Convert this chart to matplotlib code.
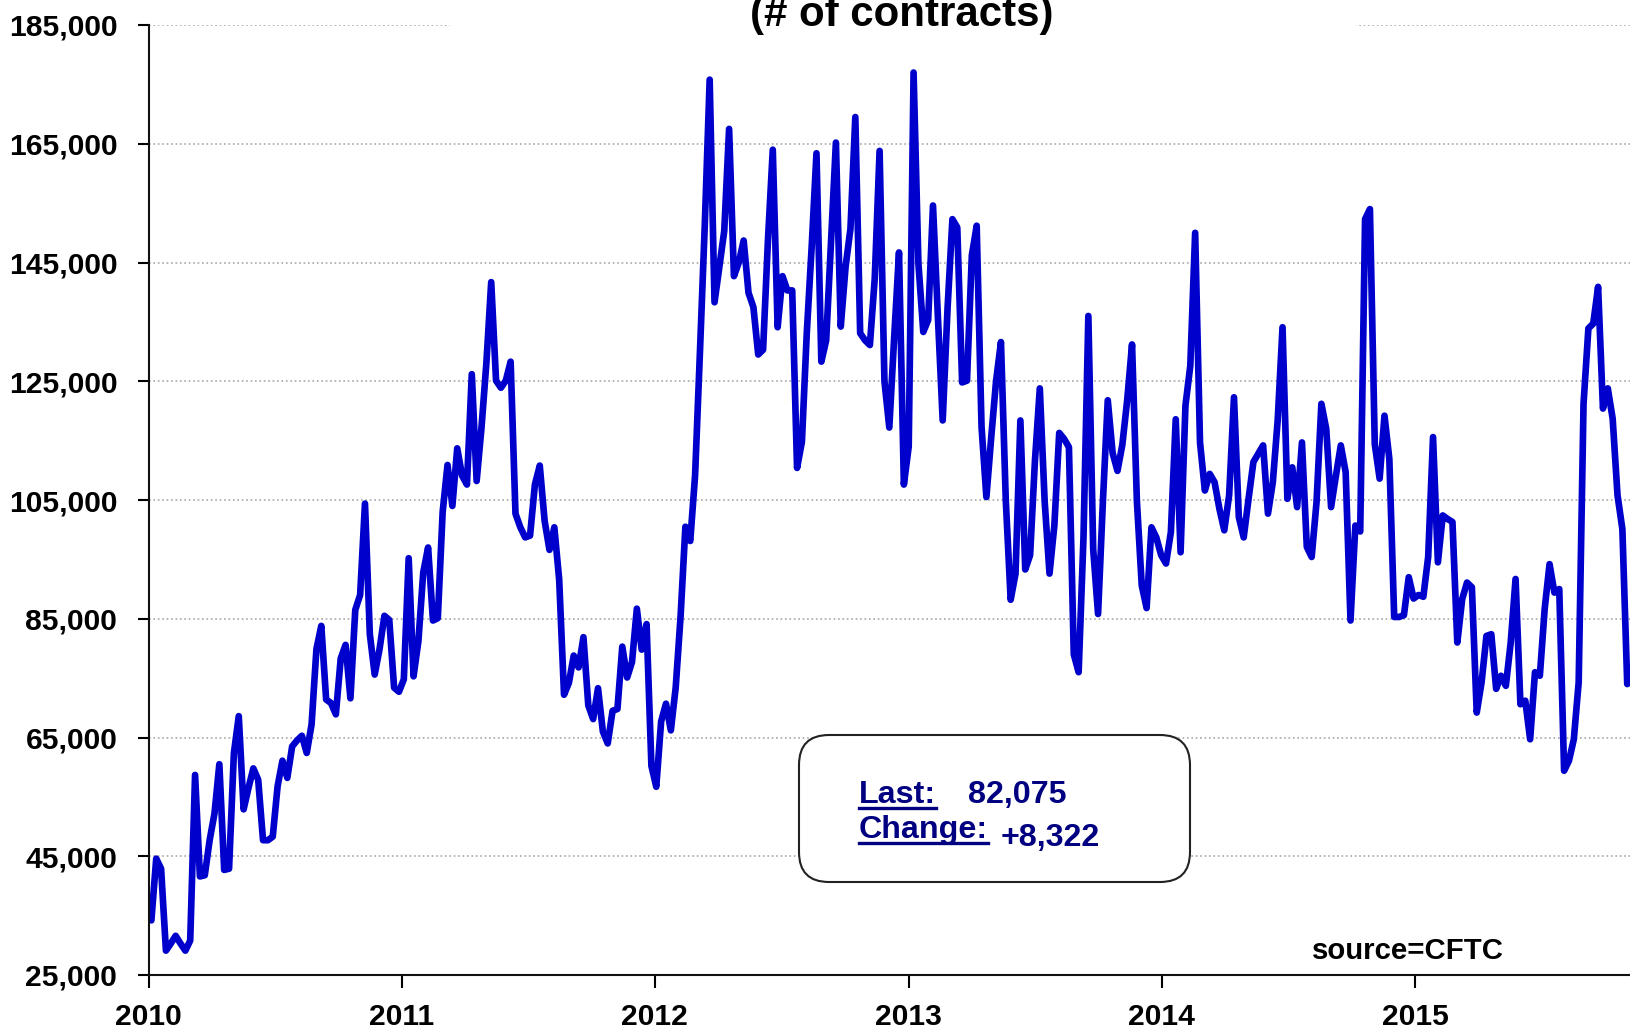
import matplotlib
matplotlib.use("Agg")
import matplotlib.pyplot as plt
import matplotlib.dates as mdates
from matplotlib import font_manager as fm
from matplotlib.patches import FancyBboxPatch, Rectangle
from matplotlib.lines import Line2D
from matplotlib.ticker import FuncFormatter
import pandas as pd

# weekly open interest (# of contracts), first report 2010-01-05
START = "2010-01-05"
oi_2010 = [34200, 44600, 42900, 29100, 30300, 31600, 30300, 29100, 30800, 58700,
           41600, 41800, 47700, 52200, 60500, 42700, 42900, 62400, 68600, 52900,
           56500, 59800, 57900, 47700, 47700, 48300, 56800, 61100, 58200, 63500,
           64500, 65300, 62400, 67200, 79900, 83800, 71400, 70800, 68900, 78300,
           80600, 71600, 86500, 89000, 104400, 82400, 75600, 79900, 85500, 84800,
           73400, 72700, 74800, 95200]
oi_2011 = [75300, 81200, 92800, 97000, 84700, 85100, 103000, 110900, 104000, 113700,
           109100, 107600, 126200, 108200, 117200, 128000, 141700, 125100, 123900, 125100,
           128300, 102700, 100400, 98700, 99000, 107600, 110800, 101500, 96600, 100400,
           91600, 72200, 74200, 78800, 76800, 81900, 70400, 68100, 73300, 66000,
           64000, 69500, 69800, 80300, 75100, 77700, 86700, 79800, 84100, 60200,
           56700, 67700, 70700]
oi_2012 = [66200, 73400, 85300, 100500, 98100, 109200, 130000, 151500, 175800, 138300,
           144300, 150300, 167500, 142700, 145000, 148700, 139900, 137500, 129500, 130300,
           148700, 164000, 134100, 142700, 140300, 140300, 110400, 114800, 133100, 147500,
           163400, 128300, 131900, 148700, 165200, 134200, 144300, 150700, 169500, 133100,
           131900, 131100, 142300, 163800, 125000, 117200, 132300, 146700, 107600, 114000,
           177000]
oi_2013 = [144800, 133300, 135300, 154600, 136000, 118400, 137300, 152300, 150900, 124800,
           125100, 146200, 151200, 117300, 105500, 115600, 125100, 131600, 104800, 88200,
           92600, 118400, 93300, 95700, 111600, 123800, 104800, 92600, 100700, 116300,
           115300, 113900, 79000, 76000, 98700, 136000, 96700, 85800, 104800, 121800,
           112900, 109900, 114300, 121800, 131200, 104800, 90600, 86800, 100400, 98700,
           95700, 94300]
oi_2014 = [99600, 118600, 96200, 120900, 127600, 150000, 114700, 106600, 109400, 108000,
           103500, 99900, 105800, 122300, 102100, 98700, 105200, 111400, 112800, 114200,
           102700, 108000, 118400, 134100, 105200, 110500, 103800, 114700, 97100, 95400,
           104600, 121200, 117000, 103800, 109100, 114200, 109700, 84700, 100700, 99700,
           152300, 154000, 114400, 108600, 119200, 111900, 85300, 85300, 85600, 92000,
           88400, 89000, 88700]
oi_2015 = [95400, 115600, 94500, 102400, 101800, 101300, 81000, 88300, 91100, 90300,
           69200, 74300, 82100, 82400, 73200, 75400, 73700, 81000, 91700, 70600,
           71200, 64700, 76000, 75400, 86700, 94200, 89400, 90000, 59400, 61100,
           64700, 74300, 121200, 133900, 134700, 140900, 120400, 123800, 118700, 105800,
           100100, 74000, 74700]

values = oi_2010 + oi_2011 + oi_2012 + oi_2013 + oi_2014 + oi_2015
dates = pd.date_range(START, periods=len(values), freq="7D")

Y_TICKS = list(range(25000, 185001, 20000))
X_START, X_END = "2010-01-01", "2015-11-07"
TITLE = "(# of contracts)"
LAST_LABEL, LAST_VALUE = "Last:", "82,075"
CHANGE_LABEL, CHANGE_VALUE = "Change:", "+8,322"
SOURCE = "source=CFTC"

C_LINE = "#0000cc"
C_BOX_TEXT = "#000080"

# narrow face if the system has it, else regular Arial-metric face at a smaller size
installed = {f.name for f in fm.fontManager.ttflist}
if "Liberation Sans Narrow" in installed:
    FONT, FS = "Liberation Sans Narrow", 1.0
else:
    FONT, FS = "Liberation Sans", 0.83

plt.rcParams["font.family"] = [FONT, "DejaVu Sans"]
plt.rcParams["font.weight"] = "bold"

W, H = 1630, 1032
fig = plt.figure(figsize=(W / 100, H / 100), dpi=100)
ax = fig.add_axes([148.6 / W, 1 - 975 / H, 1 - 148.6 / W, (975 - 25) / H])

ax.plot(dates, values, color=C_LINE, lw=4.8, solid_joinstyle="round",
        solid_capstyle="round", zorder=3)

ax.set_ylim(Y_TICKS[0], Y_TICKS[-1])
ax.set_yticks(Y_TICKS)
ax.yaxis.set_major_formatter(FuncFormatter(lambda v, _: f"{v:,.0f}"))
ax.set_xlim(pd.Timestamp(X_START), pd.Timestamp(X_END))
ax.xaxis.set_major_locator(mdates.YearLocator())
ax.xaxis.set_major_formatter(mdates.DateFormatter("%Y"))

ax.grid(axis="y", ls=":", color="#a8a8a8", lw=1.2, zorder=1)
for side in ("top", "right"):
    ax.spines[side].set_visible(False)
for side in ("left", "bottom"):
    ax.spines[side].set_linewidth(1.5)
    ax.spines[side].set_color("#111111")
    ax.spines[side].set_zorder(4)

ax.tick_params(axis="y", length=8, width=1.5, pad=14.5, labelsize=26 * FS)
ax.tick_params(axis="x", length=9, width=1.5, pad=11, labelsize=26 * FS)

# white title area breaks the top gridline
fig.add_artist(Rectangle((450 / W, 1 - 42 / H), (1355 - 450) / W, 42 / H,
                         transform=fig.transFigure, color="white", zorder=5))
fig.text(902 / W, 1 - 26 / H, TITLE, ha="center", va="baseline",
         fontsize=36.5 * FS, fontweight="bold", zorder=6)

# summary box
fig.add_artist(FancyBboxPatch((7.99, (H - 882) / 100), 3.91, 1.47,
                              boxstyle="round,pad=0,rounding_size=0.3",
                              transform=fig.dpi_scale_trans, facecolor="white",
                              edgecolor="#222222", lw=1.5, zorder=5))
box_fs = 28 * FS
t_last = fig.text(859 / W, 1 - 803 / H, LAST_LABEL, ha="left", va="baseline",
                  fontsize=box_fs, color=C_BOX_TEXT, zorder=6)
fig.text(968 / W, 1 - 803 / H, LAST_VALUE, ha="left", va="baseline",
         fontsize=box_fs, color=C_BOX_TEXT, zorder=6)
t_chg = fig.text(859 / W, 1 - 838 / H, CHANGE_LABEL, ha="left", va="baseline",
                 fontsize=box_fs, color=C_BOX_TEXT, zorder=6)
fig.text(1001 / W, 1 - 846 / H, CHANGE_VALUE, ha="left", va="baseline",
         fontsize=box_fs, color=C_BOX_TEXT, zorder=6)

fig.text(1312 / W, 1 - 959 / H, SOURCE, ha="left", va="baseline",
         fontsize=25.5 * FS, fontweight="bold", color="black")

# underline the two labels
fig.canvas.draw()
r = fig.canvas.get_renderer()
for t, base in ((t_last, 803), (t_chg, 838)):
    bb = t.get_window_extent(r)
    y = 1 - (base + 5) / H
    fig.add_artist(Line2D([bb.x0 / W, bb.x1 / W], [y, y], transform=fig.transFigure,
                          color=C_BOX_TEXT, lw=2.4, zorder=6))

fig.savefig("out.png", dpi=100)
